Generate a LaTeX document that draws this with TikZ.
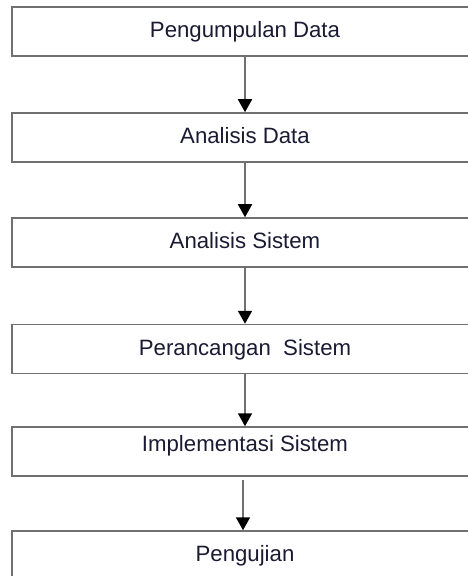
\documentclass[tikz,border=0pt]{standalone}
\usepackage{fontspec}
\setmainfont{Liberation Sans}
\usetikzlibrary{arrows.meta}
\definecolor{linegray}{HTML}{707070}
\definecolor{txt}{HTML}{1A1A33}
\begin{document}
\begin{tikzpicture}[x=0.5pt,y=-0.5pt,
  stepbox/.style={draw=linegray,line width=0.75pt,minimum width=233pt,minimum height=24.5pt,
    inner sep=0pt,text height=8pt,text depth=2pt,font=\fontsize{11.1}{13}\selectfont,text=txt},
  flow/.style={draw=linegray,line width=0.9pt,-{Triangle[width=7pt,length=6.5pt,color=black]}}]
\useasboundingbox (0,0) rectangle (467,576);
\node[stepbox] (b1) at (245,31.5) {Pengumpulan Data};
\node[stepbox] (b2) at (245,137.5) {Analisis Data};
\node[stepbox] (b3) at (245,242.5) {Analisis Sistem};
\node[stepbox] (b4) at (245,349) {Perancangan\ \ Sistem};
\node[stepbox,text depth=8pt] (b5) at (245,451.5) {Implementasi Sistem};
\node[stepbox] (b6) at (245,555.5) {Pengujian};
\coordinate (s5) at (243,480);
\draw[flow] (b1) -- (b2);
\draw[flow] (b2) -- (b3);
\draw[flow] (b3) -- (b4);
\draw[flow] (b4) -- (b5);
\draw[flow] (s5) -- (s5 |- b6.north);
\end{tikzpicture}
\end{document}
